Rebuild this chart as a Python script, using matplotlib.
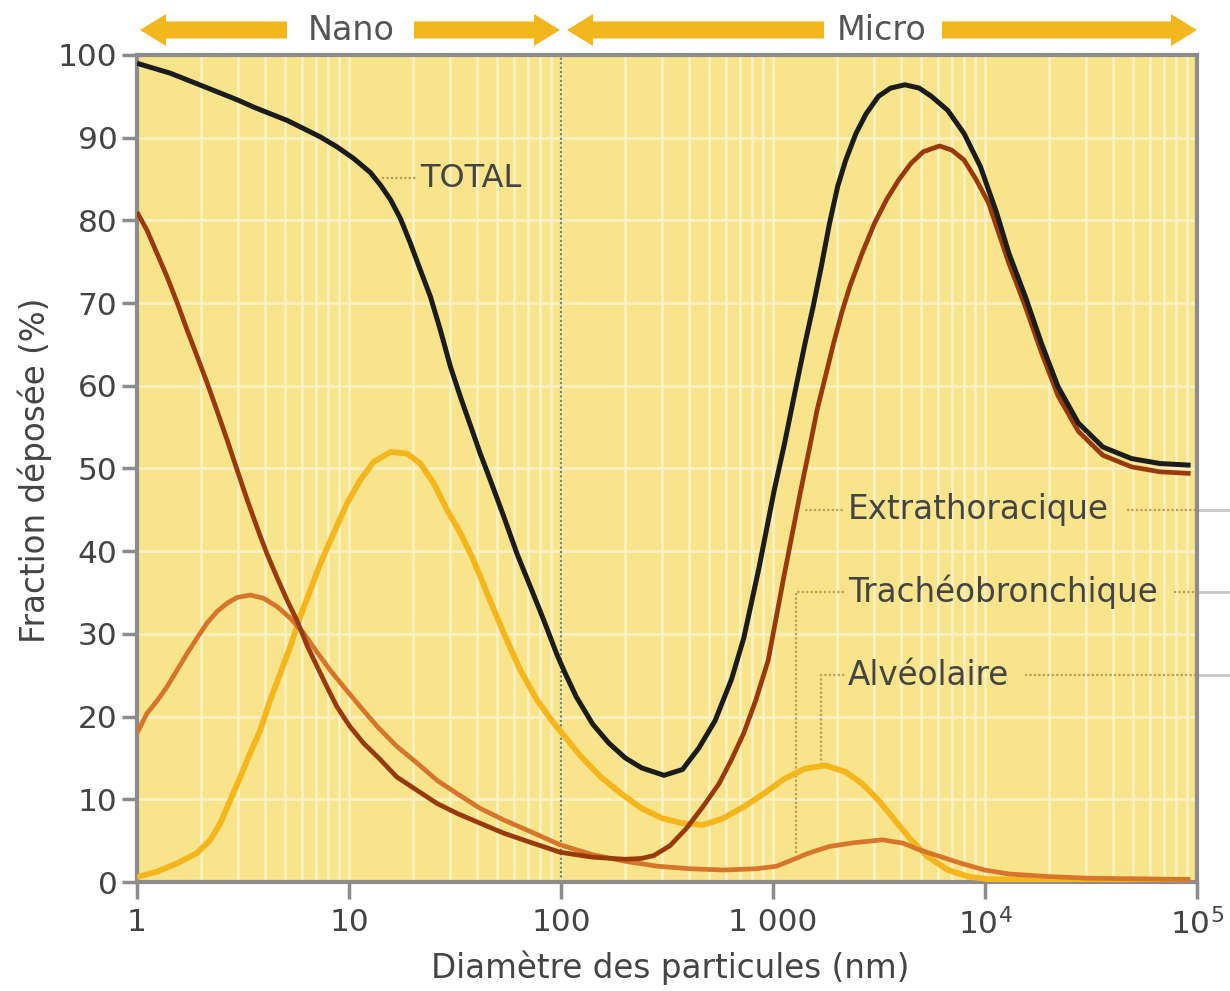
import matplotlib
matplotlib.use("Agg")
import matplotlib.pyplot as plt
import matplotlib.transforms as mtransforms
from matplotlib.patches import FancyArrow
import numpy as np

# ---------------- data ----------------
total_x = [1, 1.198, 1.436, 1.72, 2.063, 2.47, 2.96, 3.55, 4.25, 5.1, 6.11, 7.32, 8.77, 10.5,
           12.6, 14.05, 15.7, 17.5, 19.5, 21.7, 24.2, 27, 30.1, 33.5, 37.4, 41.6, 46.4, 53.7,
           62, 71.7, 82.8, 95.7, 104.8, 118, 141, 168, 201, 240, 306, 374, 447, 533, 637,
           728, 859, 1014, 1133, 1266, 1415, 1547, 1689, 1846, 2018, 2204, 2461, 2750, 3142,
           3589, 4192, 4893, 5588, 6675, 7969, 9514, 11350, 12970, 15490, 18480, 22100,
           27550, 35960, 49070, 66870, 93300]
total_y = [99.0, 98.4, 97.8, 97.0, 96.2, 95.4, 94.6, 93.7, 92.9, 92.1, 91.1, 90.1, 88.9, 87.5,
           85.8, 84.3, 82.5, 80.2, 77.2, 74.0, 70.8, 66.7, 62.3, 58.7, 55.2, 51.8, 48.6, 44.2,
           39.7, 35.7, 31.7, 27.5, 25.2, 22.4, 19.1, 16.8, 15.0, 13.8, 12.9, 13.6, 16.2, 19.5,
           24.5, 29.5, 38.0, 47.4, 53.0, 59.1, 65.1, 69.6, 74.4, 79.6, 84.1, 87.3, 90.5, 92.9,
           95.0, 96.0, 96.4, 96.0, 95.0, 93.3, 90.5, 86.5, 80.9, 76.0, 70.8, 65.1, 59.9,
           55.5, 52.6, 51.2, 50.6, 50.4]

extra_x = [1, 1.115, 1.243, 1.385, 1.544, 1.72, 1.919, 2.138, 2.384, 2.657, 2.96, 3.30, 3.68,
           4.1, 4.58, 5.1, 5.69, 6.34, 7.06, 7.87, 8.77, 10.1, 11.7, 14.05, 16.8, 20.9, 26,
           32.3, 41.6, 53.7, 71.7, 99, 141, 201, 240, 274, 327, 391, 467, 557, 637, 728, 830,
           949, 1127, 1353, 1479, 1615, 1766, 1929, 2108, 2303, 2630, 3005, 3431, 3918, 4477,
           5113, 6107, 6971, 7966, 9100, 10400, 12970, 15490, 18480, 22100, 27550, 35960,
           49070, 66870, 93300]
extra_y = [81.0, 78.8, 76.0, 73.2, 70.1, 66.8, 63.6, 60.4, 57.0, 53.5, 49.9, 46.3, 42.9,
           39.7, 36.8, 34.1, 31.6, 28.6, 26.1, 23.6, 21.2, 18.8, 16.8, 14.8, 12.7, 11.1, 9.5,
           8.3, 7.1, 5.9, 4.8, 3.6, 3.0, 2.75, 2.85, 3.2, 4.4, 6.5, 9.1, 11.9, 14.8, 18.0,
           22.0, 26.8, 37.0, 47.4, 52.2, 57.1, 61.1, 65.1, 68.8, 72.0, 76.0, 79.6, 82.5, 84.9,
           86.9, 88.3, 89.0, 88.5, 87.3, 84.9, 82.1, 74.8, 69.6, 64.0, 58.8, 54.5, 51.6,
           50.2, 49.6, 49.4]

trach_x = [1, 1.115, 1.243, 1.385, 1.544, 1.72, 1.919, 2.138, 2.384, 2.657, 2.96, 3.42, 3.96,
           4.58, 5.29, 6.11, 7.06, 8.16, 9.44, 11.3, 13.6, 16.8, 20.9, 26, 32.3, 41.6, 53.7,
           71.7, 99, 141, 201, 287, 408, 583, 830, 1037, 1239, 1479, 1846, 2410, 3281, 4102,
           4893, 6107, 7620, 9950, 12970, 20230, 31500, 93000]
trach_y = [18.0, 20.4, 21.9, 23.6, 25.6, 27.6, 29.5, 31.3, 32.7, 33.7, 34.4, 34.7, 34.3,
           33.3, 31.9, 30.1, 27.8, 25.6, 23.6, 21.2, 18.8, 16.4, 14.4, 12.3, 10.7, 8.9, 7.5,
           6.1, 4.5, 3.3, 2.5, 1.9, 1.6, 1.45, 1.6, 1.9, 2.7, 3.5, 4.3, 4.75, 5.1, 4.7,
           3.9, 3.1, 2.3, 1.45, 0.97, 0.65, 0.45, 0.3]

alv_x = [1, 1.243, 1.544, 1.919, 2.22, 2.47, 2.756, 3.07, 3.42, 3.82, 4.25, 4.74, 5.29,
         5.89, 6.57, 7.32, 8.47, 9.79, 11.3, 13.08, 15.7, 18.8, 21.7, 25.1, 29, 33.5, 38.7,
         44.8, 53.7, 64.3, 77.1, 92.4, 99, 123, 154, 192, 240, 300, 374, 467, 583, 728, 908,
         1133, 1415, 1766, 2204, 2630, 3142, 3750, 4477, 5345, 6675, 8330, 10400, 93000]
alv_y = [0.6, 1.25, 2.25, 3.5, 5.1, 7.1, 9.9, 12.7, 15.6, 18.4, 22.0, 25.2, 28.5,
         32.1, 35.3, 38.5, 42.2, 45.8, 48.6, 50.8, 52.0, 51.8, 50.6, 48.2, 45.0, 42.2, 38.9,
         34.9, 30.1, 25.6, 22.0, 19.2, 18.3, 15.3, 12.7, 10.7, 8.9, 7.7, 7.1, 6.9, 7.7, 9.1,
         10.7, 12.5, 13.7, 14.1, 13.3, 11.9, 9.9, 7.5, 5.1, 3.1, 1.45, 0.65, 0.33, 0.25]

x_ticks = [1, 10, 100, 1000, 1e4, 1e5]
x_ticklabels = ['1', '10', '100', '1 000', '10$^4$', '10$^5$']
y_ticks = [0, 10, 20, 30, 40, 50, 60, 70, 80, 90, 100]

# ---------------- style ----------------
BG = '#f8e48a'
GRID = '#fdf1c4'
SPINE = '#8c8c8c'
TXT = '#444444'
C_TOTAL = '#1c1c1c'
C_EXTRA = '#983a0c'
C_TRACH = '#d5762c'
C_ALV = '#f4b61c'
C_LEAD = '#bd9c5c'
FS_TICK = 22.5
FS_LAB = 23.5

plt.rcParams['font.family'] = ['DejaVu Sans']

fig = plt.figure(figsize=(12.3, 9.91), dpi=100)
ax = fig.add_axes([137 / 1230, 109 / 991, 1060 / 1230, 827 / 991])
ax.set_facecolor(BG)
ax.set_xscale('log')
ax.set_xlim(1, 1e5)
ax.set_ylim(0, 100)

# grid
ax.xaxis.set_minor_locator(matplotlib.ticker.LogLocator(base=10, subs=np.arange(2, 10)))
ax.grid(which='both', axis='x', color=GRID, lw=2, zorder=0)
ax.grid(which='major', axis='y', color=GRID, lw=2, zorder=0)
ax.set_axisbelow(True)

for s in ax.spines.values():
    s.set_color(SPINE)
    s.set_linewidth(3)

ax.set_xticks(x_ticks)
ax.set_xticklabels(x_ticklabels)
ax.set_yticks(y_ticks)
ax.tick_params(axis='both', which='major', colors=SPINE, labelcolor=TXT, labelsize=FS_TICK,
               width=2.5)
ax.tick_params(axis='y', length=11, pad=3)
ax.tick_params(axis='x', length=12, pad=7)
ax.tick_params(axis='x', which='minor', length=0)

# separator at 100 nm
ax.axvline(100, color='#8a7a50', lw=1.6, ls=(0, (1, 1)), zorder=1)

# curves
kw = dict(solid_joinstyle='round', solid_capstyle='butt')
ax.plot(alv_x, alv_y, color=C_ALV, lw=4.2, zorder=3, **kw)
ax.plot(trach_x, trach_y, color=C_TRACH, lw=3.4, zorder=4, **kw)
ax.plot(extra_x, extra_y, color=C_EXTRA, lw=3.4, zorder=5, **kw)
ax.plot(total_x, total_y, color=C_TOTAL, lw=3.6, zorder=6, **kw)

# annotations
dot = dict(color=C_LEAD, lw=1.6, ls=(0, (1, 1)), zorder=2)
ax.plot([14.3, 20.7], [85.1, 85.1], **dot)
ax.text(21.6, 85.1, 'TOTAL', fontsize=FS_LAB - 0.5, color=TXT, va='center', ha='left', zorder=7)

lab_x = 2260
ax.plot([1416, 2187], [45, 45], **dot)
ax.text(lab_x, 45, 'Extrathoracique', fontsize=FS_LAB, color=TXT, va='center', ha='left', zorder=7)
ax.plot([47000, 1e5], [45, 45], **dot)

ax.plot([1290, 1290, 2187], [3.5, 35.1, 35.1], **dot)
ax.text(lab_x, 35.1, 'Trachéobronchique', fontsize=FS_LAB, color=TXT, va='center', ha='left', zorder=7)
ax.plot([78000, 1e5], [35.1, 35.1], **dot)

ax.plot([1685, 1685, 2187], [14.1, 25.0, 25.0], **dot)
ax.text(lab_x, 25.0, 'Alvéolaire', fontsize=FS_LAB, color=TXT, va='center', ha='left', zorder=7)
ax.plot([15500, 1e5], [25.0, 25.0], **dot)

# gray extensions beyond the right spine
btr = mtransforms.blended_transform_factory(ax.transAxes, ax.transData)
for yv in [45, 35.1, 25.0]:
    ax.plot([1.0, 1.035], [yv, yv], color='#c8c8c8', lw=2, transform=btr, clip_on=False)

# axis labels
fig.text(35 / 1230, 1 - 470 / 991, 'Fraction déposée (%)', rotation=90, fontsize=FS_LAB,
         color=TXT, ha='center', va='center')
fig.text(670 / 1230, 1 - 968 / 991, 'Diamètre des particules (nm)', fontsize=FS_LAB,
         color=TXT, ha='center', va='center')

# top arrows (in inches)
C_ARR = '#f3b71e'
yA = (991 - 30) / 100.0
def arrow(x0px, x1px):
    x0 = x0px / 100.0
    x1 = x1px / 100.0
    fa = FancyArrow(x0, yA, x1 - x0, 0, width=0.17, head_width=0.32, head_length=0.26,
                    length_includes_head=True, color=C_ARR, lw=0,
                    transform=fig.dpi_scale_trans)
    fig.add_artist(fa)

arrow(287, 140)
arrow(414, 560)
arrow(824, 567)
arrow(942, 1197)
fig.text(351 / 1230, 1 - 30 / 991, 'Nano', fontsize=24, color='#555555', ha='center', va='center')
fig.text(882 / 1230, 1 - 30 / 991, 'Micro', fontsize=24, color='#555555', ha='center', va='center')

fig.savefig('out.png', dpi=100)
